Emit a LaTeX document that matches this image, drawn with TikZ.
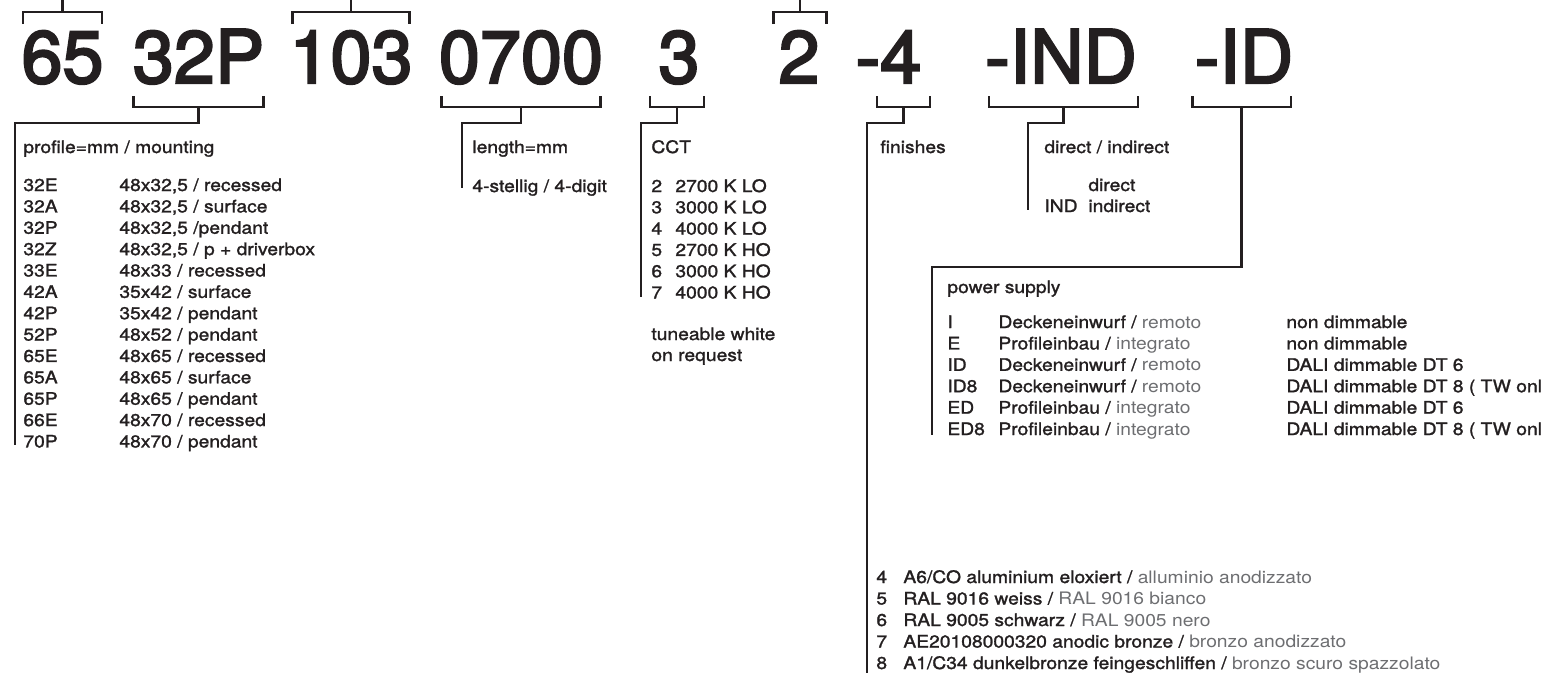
\documentclass[tikz,border=0pt]{standalone}
\usepackage{fontspec}
\setmainfont{TeX Gyre Heros}
\newfontfamily\codefont{TeX Gyre Heros}[FakeBold=3]
\newfontfamily\listfont{TeX Gyre Heros}[FakeStretch=1.12, FakeBold=1.5]
\newfontfamily\litefont{TeX Gyre Heros}[FakeStretch=1.12]
\usetikzlibrary{calc}
\definecolor{ink}{HTML}{231F20}
\definecolor{soft}{HTML}{6D6E71}
\newcommand{\lite}[1]{{\litefont\color{soft}#1}}

\begin{document}
\begin{tikzpicture}[x=0.5pt, y=-0.5pt,
    code/.style={anchor=base, inner sep=0pt, text=ink, font=\codefont\fontsize{36.9}{40}\selectfont},
    txt/.style={anchor=base west, inner sep=0pt, text=ink, font=\listfont\fontsize{8.6}{10.7}\selectfont},
    link/.style={draw=ink, line width=1.1pt}]
    \useasboundingbox (0,0) rectangle (1541,682);
    \clip (0,0) rectangle (1541,682);
    % Ebenen der Klammern
    \coordinate (lvlT) at (0,-5);
    \coordinate (lvlA) at (0,12);
    \coordinate (lvlB) at (0,24);
    \coordinate (lvlC) at (0,96);
    \coordinate (lvlD) at (0,107);
    \coordinate (lvlE) at (0,123);
    \coordinate (lvlF) at (0,267);
    % Bestellcode
    \node[code] (c65) at (62.5,83) {65};
    \node[code] (c32P) at (198.5,83) {32P};
    \node[code] (c103) at (351,83) {103};
    \node[code] (c0700) at (521,83) {0700};
    \node[code] (c3) at (679,83) {3};
    \node[code] (c2) at (799,83) {2};
    \node[code] (c4) at (888.5,83) {-4};
    \node[code] (cIND) at (1061,83) {-IND};
    \node[code] (cID) at (1244,83) {-ID};
    % Enden der Linien
    \coordinate (eProf) at (15,445);
    \coordinate (eLen) at (462,188);
    \coordinate (eCCT) at (641,297);
    \coordinate (eFin) at (867,673);
    \coordinate (eDir) at (1028,210);
    \coordinate (ePow) at (932,435);
    % Klammern oben
    \draw[link] (c65.north |- lvlT) -- (c65.north |- lvlA);
    \draw[link] ($(c65.west |- lvlB)+(2,0)$) |- ($(c65.east |- lvlA)+(-2,0)$) -- ($(c65.east |- lvlB)+(-2,0)$);
    \draw[link] (c103.north |- lvlT) -- (c103.north |- lvlA);
    \draw[link] ($(c103.west |- lvlB)+(3.5,0)$) |- ($(c103.east |- lvlA)+(-3.5,0)$) -- ($(c103.east |- lvlB)+(-3.5,0)$);
    \draw[link] ($(c2.north |- lvlT)+(1,0)$) -- ($(c2.north |- lvlA)+(1,0)$);
    \draw[link] ($(c2.west |- lvlB)+(-4.5,0)$) |- ($(c2.east |- lvlA)+(6.5,0)$) -- ($(c2.east |- lvlB)+(6.5,0)$);
    % Klammern unten
    \draw[link] ($(c32P.west |- lvlC)+(1,0)$) |- ($(c32P.east |- lvlD)+(-1,0)$) -- ($(c32P.east |- lvlC)+(-1,0)$);
    \draw[link] (c32P.south |- lvlD) |- (eProf |- lvlE) -- (eProf);
    \draw[link] ($(c0700.west |- lvlC)+(3,0)$) |- ($(c0700.east |- lvlD)+(-3,0)$) -- ($(c0700.east |- lvlC)+(-3,0)$);
    \draw[link] (c0700.south |- lvlD) |- (eLen |- lvlE) -- (eLen);
    \draw[link] ($(c3.west |- lvlC)+(-8,0)$) |- ($(c3.east |- lvlD)+(4,0)$) -- ($(c3.east |- lvlC)+(4,0)$);
    \draw[link] ($(c3.south |- lvlD)+(-2,0)$) |- (eCCT |- lvlE) -- (eCCT);
    \draw[link] ($(c4.west |- lvlC)+(22,0)$) |- ($(c4.east |- lvlD)+(8,0)$) -- ($(c4.east |- lvlC)+(8,0)$);
    \draw[link] ($(c4.south |- lvlD)+(15,0)$) |- (eFin |- lvlE) -- (eFin);
    \draw[link] ($(cIND.west |- lvlC)+(4,0)$) |- ($(cIND.east |- lvlD)+(1,0)$) -- ($(cIND.east |- lvlC)+(1,0)$);
    \draw[link] ($(cIND.south |- lvlD)+(2.5,0)$) |- (eDir |- lvlE) -- (eDir);
    \draw[link] ($(cID.west |- lvlC)+(-2,0)$) |- ($(cID.east |- lvlD)+(-3,0)$) -- ($(cID.east |- lvlC)+(-3,0)$);
    \draw[link] ($(cID.south |- lvlD)+(-2.5,0)$) |- (ePow |- lvlF) -- (ePow);
    % Profil / Montage
    \node[txt] (hProf) at (23,153) {profile=mm / mounting};
    \foreach \k/\d [count=\i] in {32E/{48x32,5 / recessed}, 32A/{48x32,5 / surface}, 32P/{48x32,5 /pendant},
        32Z/{48x32,5 / p + driverbox}, 33E/{48x33 / recessed}, 42A/{35x42 / surface}, 42P/{35x42 / pendant},
        52P/{48x52 / pendant}, 65E/{48x65 / recessed}, 65A/{48x65 / surface}, 65P/{48x65 / pendant},
        66E/{48x70 / recessed}, 70P/{48x70 / pendant}} {
        \node[txt] (pk\i) at (23,{191+21.37*(\i-1)}) {\k};
        \node[txt] (pd\i) at (119,{191+21.37*(\i-1)}) {\d};
    }
    % Länge
    \node[txt] (hLen) at (472,153) {length=mm};
    \node[txt] (lDig) at (472,192) {4-stellig / 4-digit};
    % Farbtemperatur
    \node[txt] (hCCT) at (651,153) {CCT};
    \foreach \k/\d [count=\i] in {2/2700 K LO, 3/3000 K LO, 4/4000 K LO, 5/2700 K HO, 6/3000 K HO, 7/4000 K HO} {
        \node[txt] (ck\i) at (651,{192+21.3*(\i-1)}) {\k};
        \node[txt] (cd\i) at (675,{192+21.3*(\i-1)}) {\d};
    }
    \node[txt] (cTw) at (651,340) {tuneable white};
    \node[txt] (cReq) at (651,361) {on request};
    % Oberflächen
    \node[txt] (hFin) at (880,153) {finishes};
    \foreach \k/\d [count=\i] in {4/{A6/CO aluminium eloxiert / \lite{alluminio anodizzato}},
        5/{RAL 9016 weiss / \lite{RAL 9016 bianco}}, 6/{RAL 9005 schwarz / \lite{RAL 9005 nero}},
        7/{AE20108000320 anodic bronze / \lite{bronzo anodizzato}},
        8/{A1/C34 dunkelbronze feingeschliffen / \lite{bronzo scuro spazzolato}}} {
        \node[txt] (fk\i) at (876,{583+21.5*(\i-1)}) {\k};
        \node[txt] (fd\i) at (903,{583+21.5*(\i-1)}) {\d};
    }
    % direkt / indirekt
    \node[txt] (hDir) at (1044,153) {direct / indirect};
    \node[txt] (dDir) at (1088,191) {direct};
    \node[txt] (dIk) at (1044,212) {IND};
    \node[txt] (dInd) at (1088,212) {indirect};
    % Netzteil
    \node[txt] (hPow) at (947,293) {power supply};
    \foreach \k/\d/\m [count=\i] in {I/{Deckeneinwurf / \lite{remoto}}/non dimmable,
        E/{Profileinbau / \lite{integrato}}/non dimmable,
        ID/{Deckeneinwurf / \lite{remoto}}/DALI dimmable DT 6,
        ID8/{Deckeneinwurf / \lite{remoto}}/DALI dimmable DT 8 ( TW only ),
        ED/{Profileinbau / \lite{integrato}}/DALI dimmable DT 6,
        ED8/{Profileinbau / \lite{integrato}}/DALI dimmable DT 8 ( TW only )} {
        \node[txt] (sk\i) at (947,{328+21.4*(\i-1)}) {\k};
        \node[txt] (sd\i) at (998,{328+21.4*(\i-1)}) {\d};
        \node[txt] (sm\i) at (1286,{328+21.4*(\i-1)}) {\m};
    }
\end{tikzpicture}
\end{document}
